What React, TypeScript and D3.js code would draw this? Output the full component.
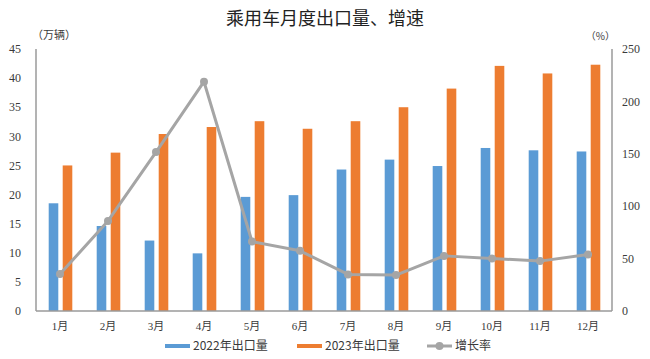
import { useMemo } from "react";
import * as d3 from "d3";

const MONTHS = ["1月", "2月", "3月", "4月", "5月", "6月", "7月", "8月", "9月", "10月", "11月", "12月"];
const EXPORT_2022 = [18.5, 14.6, 12.1, 9.9, 19.6, 19.9, 24.3, 26.0, 24.9, 28.0, 27.6, 27.4];
const EXPORT_2023 = [25.0, 27.2, 30.4, 31.6, 32.6, 31.3, 32.6, 35.0, 38.2, 42.1, 40.8, 42.3];
const GROWTH = [35.2, 85.9, 151.6, 218.8, 66.3, 57.4, 34.9, 34.3, 52.6, 50.1, 47.6, 53.9];
const LEFT_TICKS = [0, 5, 10, 15, 20, 25, 30, 35, 40, 45];
const RIGHT_TICKS = [0, 50, 100, 150, 200, 250];

const WIDTH = 650;
const HEIGHT = 359;
const MARGIN = { top: 49, right: 38, bottom: 48, left: 36 };
const BLUE = "#5b9bd5";
const ORANGE = "#ed7d31";
const GRAY = "#a5a5a5";
const AXIS = "#9a9a9a";
const TEXT = "#3a3a3a";
const SERIF = "'Liberation Serif', 'Noto Sans CJK SC', serif";
const CJK = "'Noto Sans CJK SC', sans-serif";

export default function App() {
  const boundsWidth = WIDTH - MARGIN.left - MARGIN.right;
  const boundsHeight = HEIGHT - MARGIN.top - MARGIN.bottom;

  const xScale = useMemo(
    () => d3.scaleBand<string>().domain(MONTHS).range([0, boundsWidth]),
    [boundsWidth]
  );
  const innerScale = useMemo(
    () => d3.scaleBand<string>().domain(["2022", "2023"]).range([-11.3, 12.3]).paddingInner(0.314),
    []
  );
  const yLeft = useMemo(() => d3.scaleLinear().domain([0, 45]).range([boundsHeight, 0]), [boundsHeight]);
  const yRight = useMemo(() => d3.scaleLinear().domain([0, 250]).range([boundsHeight, 0]), [boundsHeight]);

  const center = (m: string) => (xScale(m) ?? 0) + xScale.bandwidth() / 2;

  const lineGen = d3
    .line<number>()
    .x((_, i) => center(MONTHS[i]))
    .y((d) => yRight(d));

  return (
    <div style={{ position: "absolute", left: 0, top: 0 }}>
      <svg width={WIDTH} height={HEIGHT} style={{ display: "block", background: "#fff" }}>
        <text x={325} y={25} textAnchor="middle" fontSize={18} fill="#222" fontFamily={CJK}>
          乘用车月度出口量、增速
        </text>

        <g transform={`translate(${MARGIN.left},${MARGIN.top})`}>
          {/* bars */}
          {MONTHS.map((m, i) => (
            <g key={m} transform={`translate(${center(m)},0)`}>
              <rect
                x={innerScale("2022")}
                width={innerScale.bandwidth()}
                y={yLeft(EXPORT_2022[i])}
                height={boundsHeight - yLeft(EXPORT_2022[i])}
                fill={BLUE}
              />
              <rect
                x={innerScale("2023")}
                width={innerScale.bandwidth()}
                y={yLeft(EXPORT_2023[i])}
                height={boundsHeight - yLeft(EXPORT_2023[i])}
                fill={ORANGE}
              />
            </g>
          ))}

          {/* axes lines */}
          <line x1={0} x2={0} y1={0} y2={boundsHeight} stroke={AXIS} strokeWidth={1.5} />
          <line x1={boundsWidth} x2={boundsWidth} y1={0} y2={boundsHeight} stroke={AXIS} strokeWidth={1.5} />
          <line x1={0} x2={boundsWidth} y1={boundsHeight} y2={boundsHeight} stroke={AXIS} strokeWidth={1.5} />

          {/* growth line */}
          <path d={lineGen(GROWTH) ?? ""} fill="none" stroke={GRAY} strokeWidth={3} strokeLinejoin="round" />
          {GROWTH.map((g, i) => (
            <circle key={i} cx={center(MONTHS[i])} cy={yRight(g)} r={4} fill={GRAY} />
          ))}

          {/* left ticks */}
          {LEFT_TICKS.map((t) => (
            <text key={t} x={-15} y={yLeft(t)} dy="0.35em" textAnchor="end" fontSize={12} fill={TEXT} fontFamily={SERIF}>
              {t}
            </text>
          ))}
          {/* right ticks */}
          {RIGHT_TICKS.map((t) => (
            <text key={t} x={boundsWidth + 10} y={yRight(t)} dy="0.35em" textAnchor="start" fontSize={12} fill={TEXT} fontFamily={SERIF}>
              {t}
            </text>
          ))}
          {/* x labels */}
          {MONTHS.map((m) => (
            <text key={m} x={center(m)} y={boundsHeight + 15} dy="0.35em" textAnchor="middle" fontSize={11} fill={TEXT} fontFamily={SERIF}>
              {m}
            </text>
          ))}
          <text x={-4} y={-10} fontSize={11} fill={TEXT} fontFamily={CJK}>
            （万辆）
          </text>
          <text x={boundsWidth + 3} y={-9} textAnchor="end" fontSize={10} fill={TEXT} fontFamily={CJK}>
            （%）
          </text>
        </g>

        {/* legend */}
        <g transform="translate(0,346)" fontFamily={CJK} fontSize={12} fill={TEXT}>
          <line x1={165} x2={190} y1={0} y2={0} stroke={BLUE} strokeWidth={4} />
          <text x={193} y={0} dy="0.35em">2022年出口量</text>
          <line x1={297} x2={322} y1={0} y2={0} stroke={ORANGE} strokeWidth={4} />
          <text x={325} y={0} dy="0.35em">2023年出口量</text>
          <line x1={427} x2={452} y1={0} y2={0} stroke={GRAY} strokeWidth={3} />
          <circle cx={439.5} cy={0} r={4} fill={GRAY} />
          <text x={455} y={0} dy="0.35em">增长率</text>
        </g>
      </svg>
    </div>
  );
}
